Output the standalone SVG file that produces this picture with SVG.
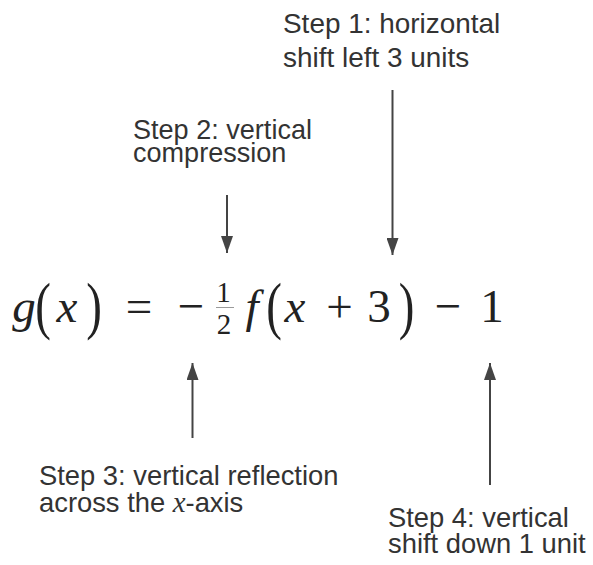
<svg xmlns="http://www.w3.org/2000/svg" width="593" height="565" viewBox="0 0 593 565">
  <style>
    .lbl { font-family: "Liberation Sans", Arial, sans-serif; font-size: 28.5px; fill: #333333; }
    .m { font-family: "Liberation Serif", "Times New Roman", serif; font-size: 47px; fill: #222222; text-anchor: middle; }
    .mi { font-style: italic; }
    .fr { font-family: "Liberation Serif", "Times New Roman", serif; font-size: 29px; fill: #222222; text-anchor: middle; }
    .conn { stroke: #444; stroke-width: 2; fill: none; }
  </style>
  <defs>
    <marker id="ah" markerUnits="userSpaceOnUse" markerWidth="18" markerHeight="12" refX="17" refY="6" orient="auto">
      <path d="M0,0 L17,6 L0,12 z" fill="#444"/>
    </marker>
  </defs>
  <rect width="593" height="565" fill="#ffffff"/>

  <g id="equation">
    <text class="m mi" x="24" y="322">g</text>
    <text class="m" transform="translate(43,310.5) scale(1,1.37)" y="11.75">(</text>
    <text class="m mi" x="67" y="322">x</text>
    <text class="m" transform="translate(94,310.5) scale(1,1.37)" y="11.75">)</text>
    <text class="m" x="139" y="322">=</text>
    <text class="m" x="191" y="322">−</text>
    <text class="fr" x="223.5" y="302">1</text>
    <line x1="216" y1="307.5" x2="234" y2="307.5" stroke="#9a9a9a" stroke-width="1"/>
    <text class="fr" x="224" y="334">2</text>
    <text class="m mi" x="252" y="322">f</text>
    <text class="m" transform="translate(274,310.5) scale(1,1.37)" y="11.75">(</text>
    <text class="m mi" x="295" y="322">x</text>
    <text class="m" x="339.5" y="322">+</text>
    <text class="m" x="379" y="322">3</text>
    <text class="m" transform="translate(406.5,310.5) scale(1,1.37)" y="11.75">)</text>
    <text class="m" x="448" y="322">−</text>
    <text class="m" x="492" y="322">1</text>
  </g>

  <g id="step1" transform="translate(283,0) scale(0.98,1)">
    <text class="lbl" x="0" y="33">Step 1: horizontal</text>
    <text class="lbl" x="0" y="67">shift left 3 units</text>
  </g>
  <g id="step2" transform="translate(133,0) scale(0.95,1)">
    <text class="lbl" x="0" y="139">Step 2: vertical</text>
    <text class="lbl" x="0" y="162">compression</text>
  </g>
  <g id="step3" transform="translate(39,0) scale(0.96,1)">
    <text class="lbl" x="0" y="485">Step 3: vertical reflection</text>
    <text class="lbl" x="0" y="512">across the <tspan font-family="Liberation Serif, serif" font-style="italic" font-size="30px">x</tspan>-axis</text>
  </g>
  <g id="step4" transform="translate(388,0) scale(0.96,1)">
    <text class="lbl" x="0" y="527">Step 4: vertical</text>
    <text class="lbl" x="0" y="553">shift down 1 unit</text>
  </g>

  <g id="connectors">
    <line class="conn" x1="392.5" y1="90" x2="392.5" y2="255" marker-end="url(#ah)"/>
    <line class="conn" x1="227" y1="195" x2="227" y2="253" marker-end="url(#ah)"/>
    <line class="conn" x1="192.5" y1="438" x2="192.5" y2="363" marker-end="url(#ah)"/>
    <line class="conn" x1="490" y1="485" x2="490" y2="363" marker-end="url(#ah)"/>
  </g>
</svg>
